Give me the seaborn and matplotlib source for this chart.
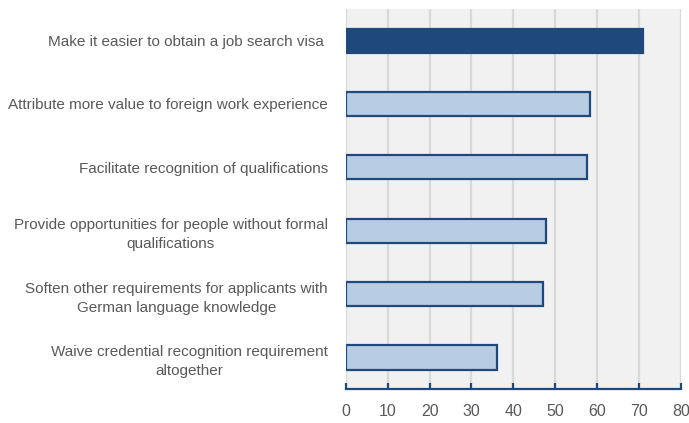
import matplotlib
matplotlib.use("Agg")
import matplotlib.pyplot as plt
import seaborn as sns
import pandas as pd

categories = [
    "Make it easier to obtain a job search visa ",
    "Attribute more value to foreign work experience",
    "Facilitate recognition of qualifications",
    "Provide opportunities for people without formal\nqualifications",
    "Soften other requirements for applicants with\nGerman language knowledge",
    "Waive credential recognition requirement\naltogether",
]
values = [70.9, 58.3, 57.6, 47.9, 47.2, 36.1]
bar_colors = ["#1f497d", "#b8cce4", "#b8cce4", "#b8cce4", "#b8cce4", "#b8cce4"]
x_ticks = [0, 10, 20, 30, 40, 50, 60, 70, 80]

df = pd.DataFrame({"category": categories, "value": values})

sns.set_theme(style="white")
plt.rcParams["font.family"] = ["Liberation Sans", "DejaVu Sans"]

fig = plt.figure(figsize=(6.89, 4.23), dpi=100)
ax = fig.add_axes([0.502, 0.080, 0.486, 0.899])
ax.set_facecolor("#f1f1f1")

sns.barplot(
    data=df, x="value", y="category", hue="category",
    palette=bar_colors, saturation=1, legend=False, orient="h",
    width=0.38, edgecolor="#1f497d", linewidth=1.6, ax=ax, zorder=3,
)

ax.set_xlim(0, 80)
ax.set_xticks(x_ticks)
ax.set_xticklabels([str(t) for t in x_ticks])
ax.xaxis.grid(True, color="#d9d9d9", linewidth=1.6, zorder=0)
ax.set_axisbelow(True)
ax.set_xlabel("")
ax.set_ylabel("")

for side in ("top", "right", "left"):
    ax.spines[side].set_visible(False)
ax.spines["bottom"].set_color("#1f497d")
ax.spines["bottom"].set_linewidth(1.6)

ax.tick_params(axis="x", direction="in", length=4, width=1.6, color="#1f497d",
               labelsize=11.5, labelcolor="#595959", pad=11, bottom=True)
ax.tick_params(axis="y", length=0, labelsize=11, labelcolor="#595959", pad=13)
for lbl in ax.get_yticklabels():
    lbl.set_multialignment("center")
    lbl.set_linespacing(1.45)

fig.savefig("out.png", dpi=100)
